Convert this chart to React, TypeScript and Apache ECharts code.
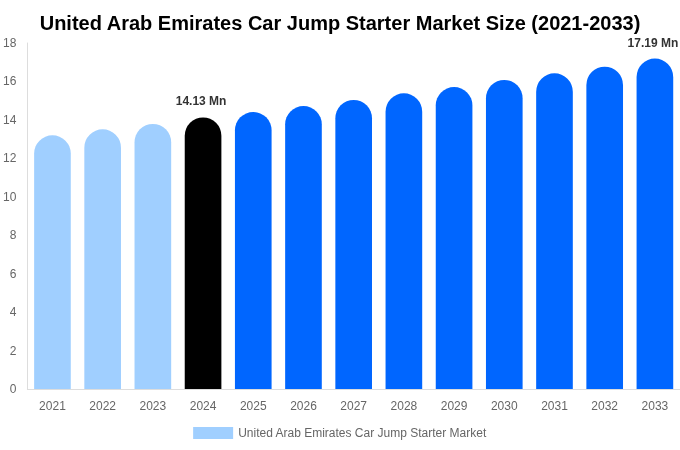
import React, { useEffect, useRef } from "react";
import * as echarts from "echarts";

const years = ["2021", "2022", "2023", "2024", "2025", "2026", "2027", "2028", "2029", "2030", "2031", "2032", "2033"];
const values = [13.2, 13.51, 13.79, 14.13, 14.41, 14.72, 15.04, 15.38, 15.71, 16.08, 16.42, 16.77, 17.19];
const labelled = ["2024", "2033"];
const seriesName = "United Arab Emirates Car Jump Starter Market";
const titleText = "United Arab Emirates Car Jump Starter Market Size (2021-2033)";

const HIST = "#a0cfff";
const BASE = "#000000";
const FORE = "#0066ff";

export default function App() {
  const ref = useRef<HTMLDivElement>(null);
  useEffect(() => {
    const chart = echarts.init(ref.current!, null, { renderer: "svg" });
    const data = values.map((v, i) => {
      const y = years[i];
      const color = Number(y) < 2024 ? HIST : Number(y) === 2024 ? BASE : FORE;
      return {
        value: v,
        itemStyle: { color },
        label: {
          show: labelled.includes(y),
          position: "top",
          formatter: (p: any) => `${p.value} Mn`,
          fontWeight: "bold",
          fontSize: 12,
          color: "#333",
          distance: 10,
          offset: [-2, 0],
        },
      };
    });
    chart.setOption({
      animation: false,
      textStyle: { fontFamily: "Liberation Sans, Arial, sans-serif" },
      title: {
        text: titleText,
        left: "center",
        top: 8,
        textStyle: { fontSize: 20, fontWeight: "bold", color: "#000" },
      },
      legend: {
        bottom: 6,
        left: "center",
        itemWidth: 40,
        itemHeight: 12,
        icon: "rect",
        data: [{ name: seriesName, itemStyle: { color: HIST } }],
        textStyle: { color: "#666", fontSize: 12 },
      },
      grid: { left: 27, right: 0, top: 43, bottom: 61 },
      xAxis: {
        type: "category",
        data: years,
        axisLine: { lineStyle: { color: "#ddd" } },
        axisTick: { show: false },
        axisLabel: { color: "#666", fontSize: 12, margin: 11 },
      },
      yAxis: {
        type: "value",
        min: 0,
        max: 18,
        interval: 2,
        axisLine: { show: true, lineStyle: { color: "#ddd" } },
        axisTick: { show: false },
        splitLine: { show: false },
        axisLabel: { color: "#666", fontSize: 12, margin: 11 },
      },
      series: [
        {
          name: seriesName,
          type: "bar",
          data,
          barWidth: "73%",
          itemStyle: { color: HIST, borderRadius: [19, 19, 0, 0] },
        },
      ],
    });
    return () => chart.dispose();
  }, []);
  return <div ref={ref} style={{ position: "fixed", left: 0, top: 0, width: 680, height: 450 }} />;
}
